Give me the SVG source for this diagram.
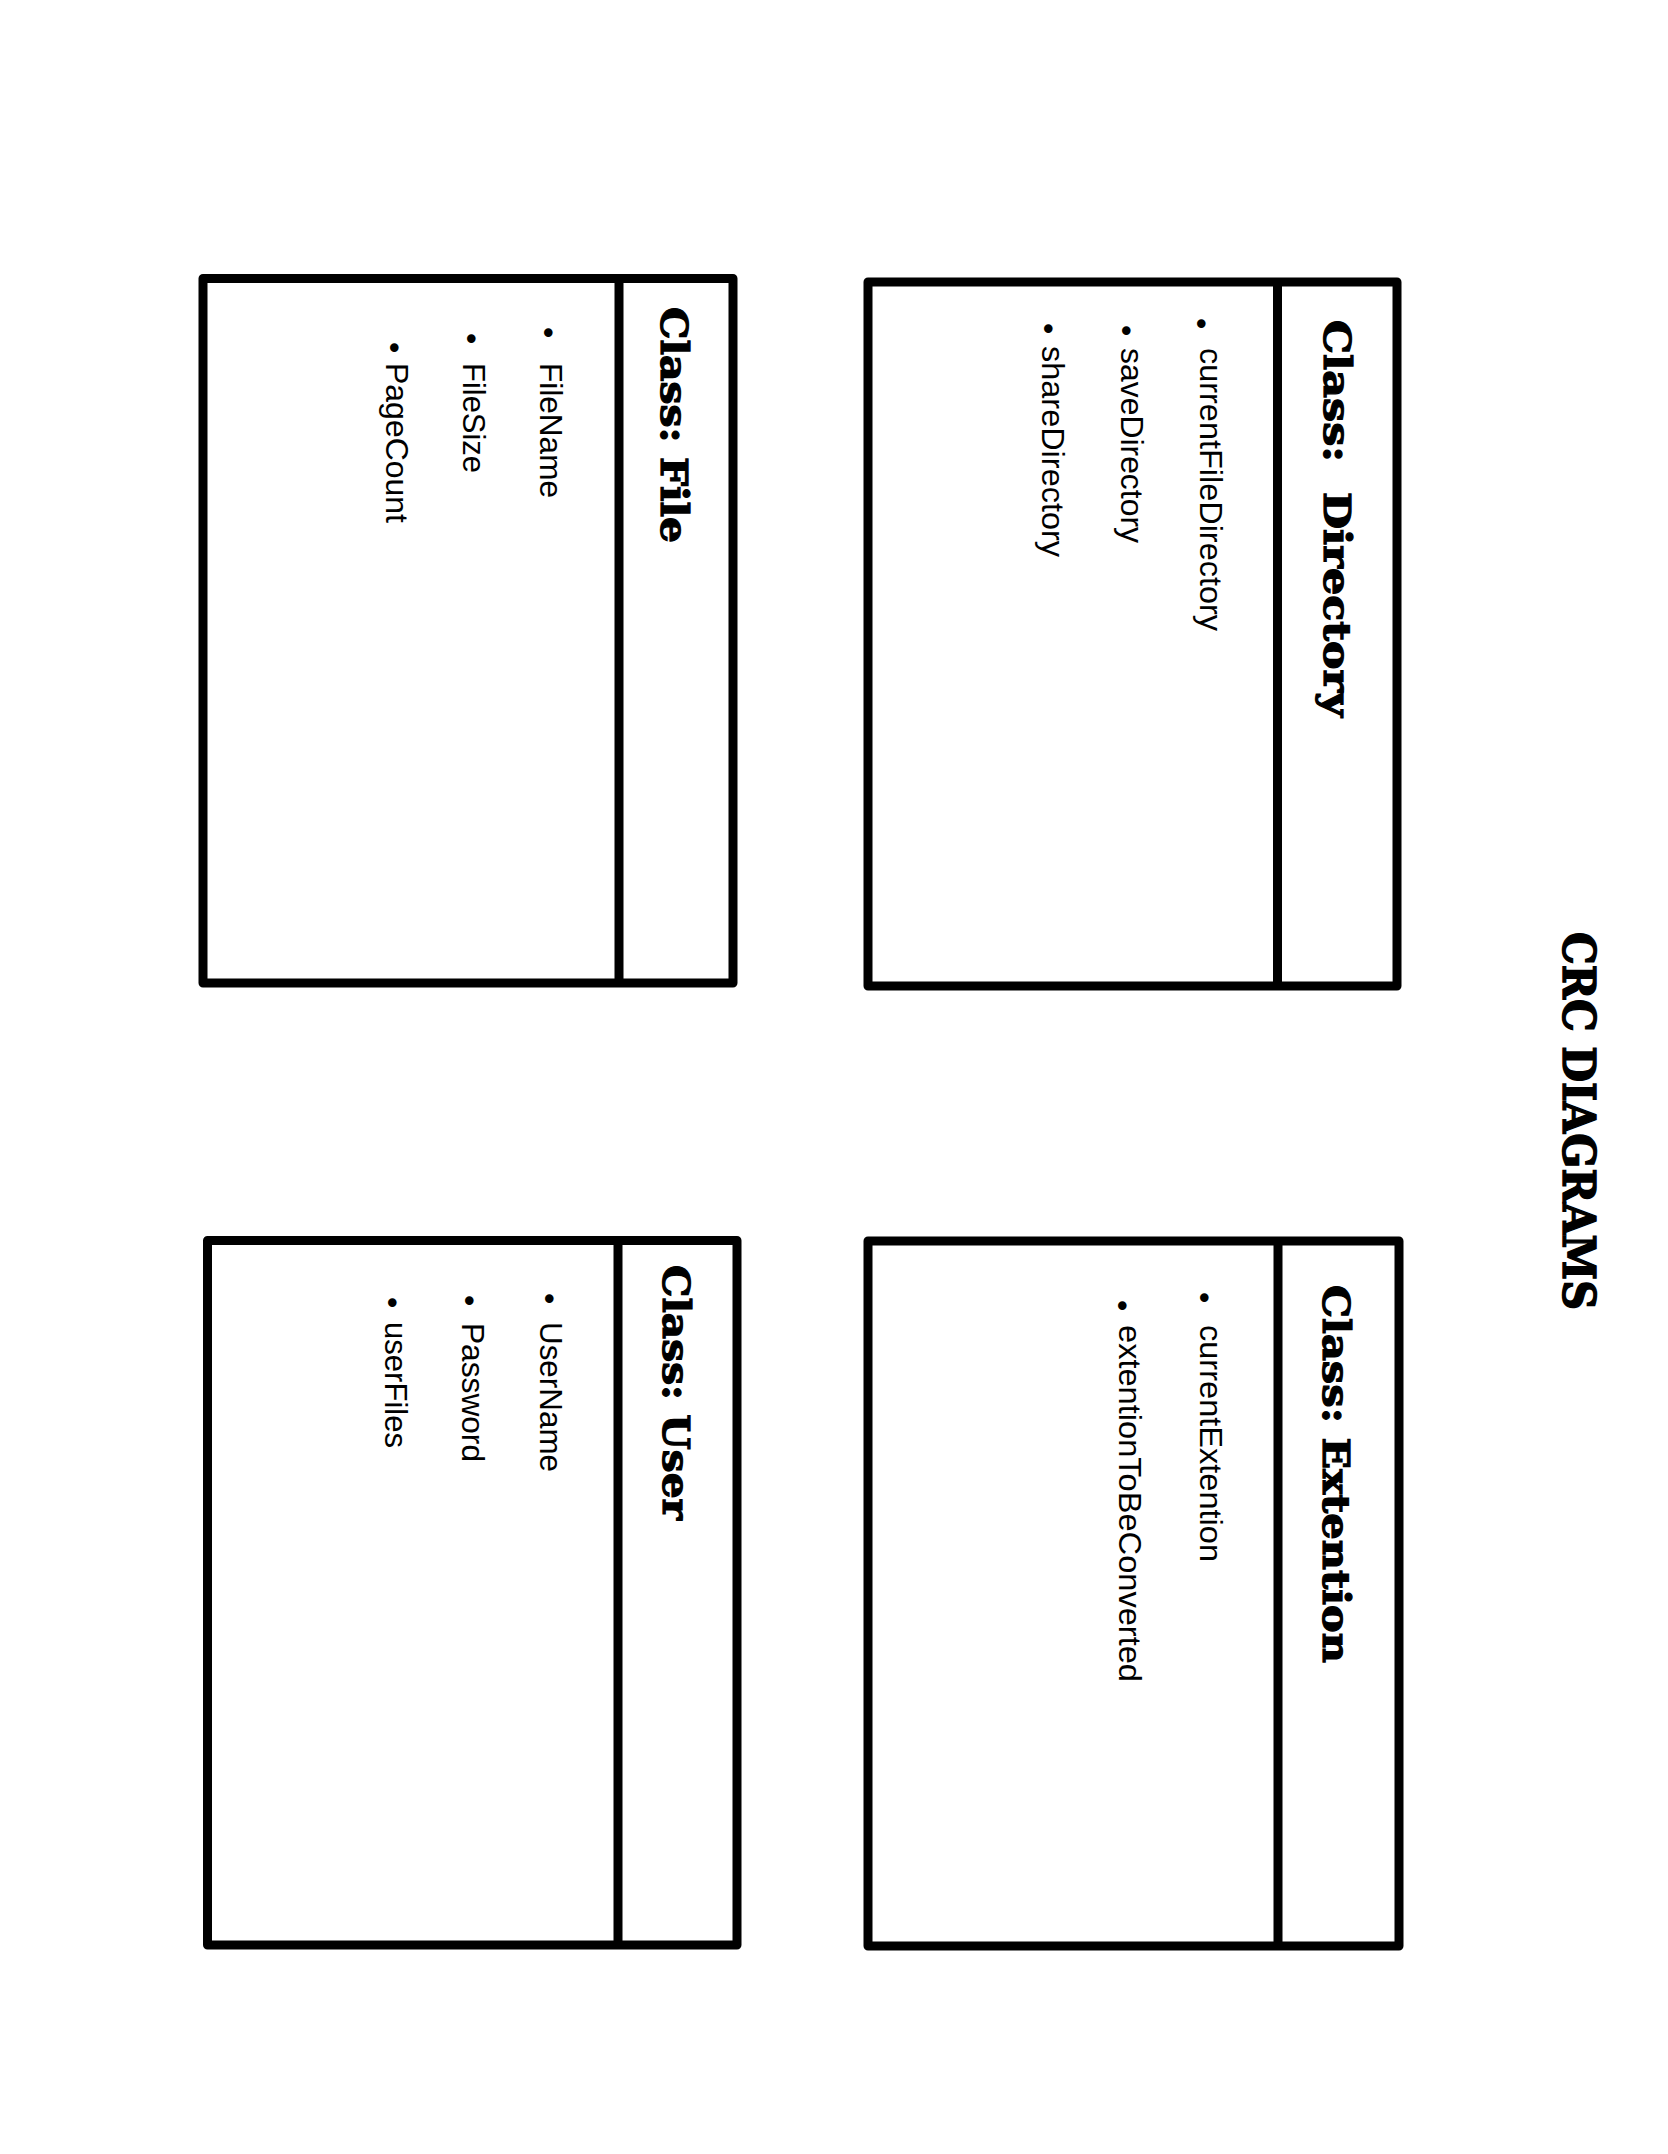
<svg xmlns="http://www.w3.org/2000/svg" width="1668" height="2154" viewBox="0 0 1668 2154">
<style>
.box{fill:#fff;stroke:#000;stroke-width:9;stroke-linejoin:round}
.div{stroke:#000;stroke-width:9}
.title{font-family:"DejaVu Serif","Liberation Serif",serif;font-weight:bold;font-size:38px;fill:#000;stroke:#000;stroke-width:1.2}
.main{font-family:"DejaVu Serif","Liberation Serif",serif;font-weight:bold;font-size:44px;fill:#000;stroke:#000;stroke-width:1.4}
.item{font-family:"Liberation Sans",Arial,sans-serif;font-size:32px;fill:#000}
</style>
<rect width="1668" height="2154" fill="#fff"/>
<g id="page-title">
<text class="main" transform="translate(1563,932) rotate(90)" textLength="378" lengthAdjust="spacingAndGlyphs">CRC DIAGRAMS</text>
</g>
<g id="directory">
<rect class="box" x="868" y="282" width="529" height="704"/>
<line class="div" x1="1277.5" y1="282" x2="1277.5" y2="986"/>
<text class="title" transform="translate(1324,320) rotate(90)" textLength="397" lengthAdjust="spacingAndGlyphs" xml:space="preserve">Class:  Directory</text>
<text class="item" transform="translate(1191,318) rotate(90)">•</text>
<text class="item" transform="translate(1200,348) rotate(90)" textLength="283" lengthAdjust="spacingAndGlyphs">currentFileDirectory</text>
<text class="item" transform="translate(1116,325) rotate(90)">•</text>
<text class="item" transform="translate(1121,348) rotate(90)" textLength="195" lengthAdjust="spacingAndGlyphs">saveDirectory</text>
<text class="item" transform="translate(1038,323) rotate(90)">•</text>
<text class="item" transform="translate(1042,346) rotate(90)" textLength="211" lengthAdjust="spacingAndGlyphs">shareDirectory</text>
</g>
<g id="extention">
<rect class="box" x="868" y="1241" width="531" height="705"/>
<line class="div" x1="1278" y1="1241" x2="1278" y2="1946"/>
<text class="title" transform="translate(1323,1285) rotate(90)" textLength="378" lengthAdjust="spacingAndGlyphs">Class: Extention</text>
<text class="item" transform="translate(1194,1292) rotate(90)">•</text>
<text class="item" transform="translate(1200,1325) rotate(90)" textLength="237" lengthAdjust="spacingAndGlyphs">currentExtention</text>
<text class="item" transform="translate(1112,1300) rotate(90)">•</text>
<text class="item" transform="translate(1119,1325) rotate(90)" textLength="357" lengthAdjust="spacingAndGlyphs">extentionToBeConverted</text>
</g>
<g id="file">
<rect class="box" x="203" y="278.5" width="530" height="704.5"/>
<line class="div" x1="619" y1="278.5" x2="619" y2="983"/>
<text class="title" transform="translate(661,307) rotate(90)" textLength="236" lengthAdjust="spacingAndGlyphs">Class: File</text>
<text class="item" transform="translate(537.5,327) rotate(90)">•</text>
<text class="item" transform="translate(539.5,363) rotate(90)" textLength="135" lengthAdjust="spacingAndGlyphs">FileName</text>
<text class="item" transform="translate(460.5,333) rotate(90)">•</text>
<text class="item" transform="translate(462.5,363) rotate(90)" textLength="110" lengthAdjust="spacingAndGlyphs">FileSize</text>
<text class="item" transform="translate(383.5,342) rotate(90)">•</text>
<text class="item" transform="translate(385.5,363) rotate(90)" textLength="160" lengthAdjust="spacingAndGlyphs">PageCount</text>
</g>
<g id="user">
<rect class="box" x="207.5" y="1240.5" width="529.5" height="704.5"/>
<line class="div" x1="618" y1="1240.5" x2="618" y2="1945"/>
<text class="title" transform="translate(663,1265) rotate(90)" textLength="255" lengthAdjust="spacingAndGlyphs">Class: User</text>
<text class="item" transform="translate(539,1293) rotate(90)">•</text>
<text class="item" transform="translate(540,1322) rotate(90)" textLength="150" lengthAdjust="spacingAndGlyphs">UserName</text>
<text class="item" transform="translate(459,1295) rotate(90)">•</text>
<text class="item" transform="translate(462,1323) rotate(90)" textLength="139" lengthAdjust="spacingAndGlyphs">Password</text>
<text class="item" transform="translate(382,1297) rotate(90)">•</text>
<text class="item" transform="translate(385,1322) rotate(90)" textLength="126" lengthAdjust="spacingAndGlyphs">userFiles</text>
</g>
<g id="connectors"></g>
</svg>
